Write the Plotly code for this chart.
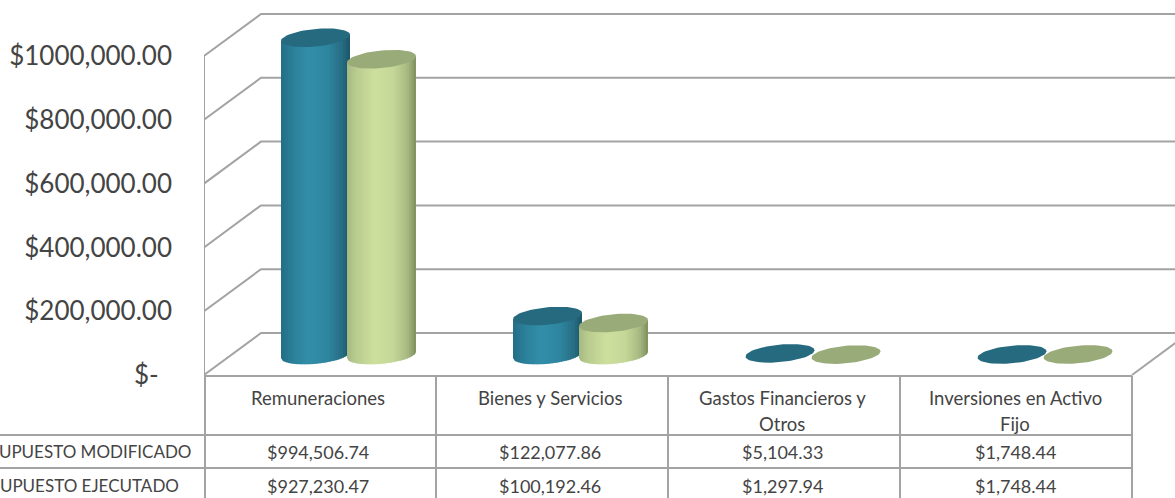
import numpy as np
import plotly.graph_objects as go

categories = ["Remuneraciones", "Bienes y Servicios", "Gastos Financieros y<br>Otros", "Inversiones en Activo<br>Fijo"]
series_names = ["PRESUPUESTO MODIFICADO", "PRESUPUESTO EJECUTADO"]
modificado = [994506.74, 122077.86, 5104.33, 1748.44]
ejecutado = [927230.47, 100192.46, 1297.94, 1748.44]
mod_labels = ["$994,506.74", "$122,077.86", "$5,104.33", "$1,748.44"]
eje_labels = ["$927,230.47", "$100,192.46", "$1,297.94", "$1,748.44"]
tick_vals = [0, 200000, 400000, 600000, 800000, 1000000]
tick_text = ["$-\u00a0\u00a0", "$200,000.00", "$400,000.00", "$600,000.00", "$800,000.00", "$1000,000.00"]

W, H = 1175, 498
LEFT = 204
Y0 = 375            # pixel row of value 0 on the front wall
UPP = 1000000 / 319  # value units per pixel
GRID = "#a3a3a3"
TEXT = "#444444"
FONT = "Lato"

def py(p):
    return (Y0 - p) * UPP

def px_paper(x):
    return (x - LEFT) / (W - LEFT)

def py_paper(y):
    return 1 - y / H

fig = go.Figure()

# walls and gridlines
DX, DY = 57, 42
for v in tick_vals:
    fig.add_trace(go.Scatter(
        x=[LEFT, LEFT + DX, W + 20], y=[v, v + DY * UPP, v + DY * UPP],
        mode="lines", line=dict(color=GRID, width=2), hoverinfo="skip", showlegend=False))
fig.add_trace(go.Scatter(x=[1132, 1132 + 60], y=[0, 60 * DY / DX * UPP], mode="lines",
                         line=dict(color=GRID, width=2), hoverinfo="skip", showlegend=False))
fig.add_trace(go.Scatter(x=[LEFT, LEFT], y=[0, 1000000], mode="lines",
                         line=dict(color=GRID, width=2), hoverinfo="skip", showlegend=False))

A, B, K = 34.5, 8.8, 0.09
BASE = 20 * UPP
TEAL_STOPS = [(-1, "#256d85"), (-0.75, "#2a7c96"), (-0.2, "#338fa9"), (0.35, "#2f86a0"), (0.75, "#286f86"), (1, "#1c5567")]
GREEN_STOPS = [(-1, "#a6b983"), (-0.75, "#b9cc8e"), (-0.2, "#cde09e"), (0.35, "#c5d897"), (0.75, "#a8ba82"), (1, "#7f9060")]
TEAL_TOP = "#266a7f"
GREEN_TOP = "#98ab79"

def hex2rgb(h):
    return np.array([int(h[i:i + 2], 16) for i in (1, 3, 5)], float)

def colour(stops, u):
    us = [s[0] for s in stops]
    rgb = [np.interp(u, us, [hex2rgb(s[1])[c] for s in stops]) for c in range(3)]
    return "rgb(%d,%d,%d)" % tuple(rgb)

def add_poly(x, y, color):
    fig.add_trace(go.Scatter(x=x, y=y, mode="lines", fill="toself", fillcolor=color,
                             line=dict(width=0, color=color), hoverinfo="skip", showlegend=False))

def cylinder(cx, value, stops, top_col):
    n = 30
    edges = np.linspace(-1, 1, n + 1)
    h_px = value / UPP
    if h_px > 4:
        for i in range(n):
            us = np.linspace(edges[i], min(edges[i + 1] + 0.03, 1), 5)
            xs = cx + A * us
            low = K * A * us - B * np.sqrt(np.clip(1 - us ** 2, 0, 1))
            bottom = BASE + low * UPP
            top = BASE + value + K * A * us * UPP
            add_poly(list(xs) + list(xs[::-1]) + [xs[0]],
                     list(bottom) + list(top[::-1]) + [bottom[0]],
                     colour(stops, (edges[i] + edges[i + 1]) / 2))
    t = np.linspace(0, 2 * np.pi, 73)
    ex = cx + A * np.cos(t)
    ey = BASE + value + (K * A * np.cos(t) + B * np.sin(t)) * UPP
    add_poly(list(ex), list(ey), top_col)

group_centres = [315.5, 547.5, 780, 1012]
for c, m, e in zip(group_centres, modificado, ejecutado):
    cylinder(c, m, TEAL_STOPS, TEAL_TOP)
    cylinder(c + 66, e, GREEN_STOPS, GREEN_TOP)

# data table
shapes = []
def line(x0, y0, x1, y1):
    shapes.append(dict(type="line", xref="paper", yref="paper",
                       x0=px_paper(x0), x1=px_paper(x1), y0=py_paper(y0), y1=py_paper(y1),
                       line=dict(color=GRID, width=2)))
line(204, 376, 1132, 376)
line(0, 435, 1132, 435)
line(0, 468, 1132, 468)
for x in [205, 436, 668, 900, 1132]:
    line(x, 376, x, 498)

ann = []
def label(x, y, text, anchor="center", size=17.5):
    ann.append(dict(xref="paper", yref="paper", x=px_paper(x), y=py_paper(y), text=text,
                    showarrow=False, xanchor=anchor, yanchor="middle", align="center",
                    font=dict(family=FONT, size=size, color=TEXT)))

cell_centres = [318, 550, 782, 1015]
for c, cat, m, e in zip(cell_centres, categories, mod_labels, eje_labels):
    for i, part in enumerate(cat.split("<br>")):
        label(c, 398 + 26 * i, part, size=18.5)
    label(c, 451.5, m, size=18)
    label(c, 485.5, e, size=18)
label(193, 451.5, series_names[0], "right", 17)
label(181, 485.5, series_names[1], "right", 17)

fig.update_layout(
    width=W, height=H, margin=dict(l=LEFT, r=0, t=0, b=0, pad=0),
    paper_bgcolor="white", plot_bgcolor="white", showlegend=False,
    shapes=shapes, annotations=ann,
    xaxis=dict(range=[LEFT, W], visible=False, fixedrange=True),
    yaxis=dict(range=[py(H), py(0)], tickmode="array", tickvals=tick_vals, ticktext=tick_text,
               showgrid=False, zeroline=False, showline=False, ticks="", fixedrange=True,
               ticklabelstandoff=31, tickfont=dict(family=FONT, size=26, color=TEXT)),
)

fig.write_html("out.html", config={"displayModeBar": False},
               post_script="document.body.style.margin='0';document.body.style.overflow='hidden';")
